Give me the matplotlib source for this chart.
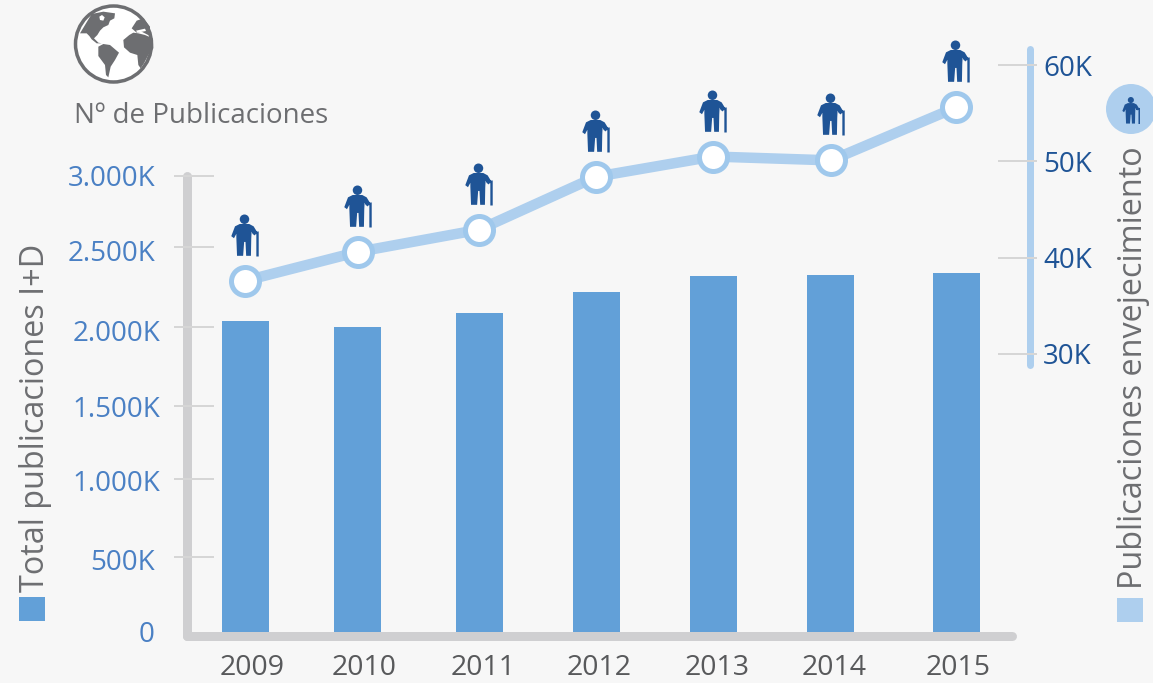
import numpy as np
import matplotlib
matplotlib.use('Agg')
import matplotlib.pyplot as plt
from matplotlib.path import Path
from matplotlib.patches import Circle, Polygon, Rectangle
from matplotlib.transforms import ScaledTranslation

# values
years = ['2009', '2010', '2011', '2012', '2013', '2014', '2015']
year_centres = [0.0, 0.952, 1.972, 2.958, 3.944, 4.938, 5.992]
total_pubs = [2046, 2007, 2099, 2237, 2342, 2349, 2362]
ageing_pubs = [37.6, 40.6, 42.9, 48.4, 50.5, 50.1, 55.6]
left_ticks = [0, 493, 1007, 1487, 2007, 2533, 3000]
left_labels = ['0', '500K', '1.000K', '1.500K', '2.000K', '2.500K', '3.000K']
right_ticks = [30, 40, 50, 60]
right_labels = ['30K', '40K', '50K', '60K']

W, H = 1153, 683
BG = '#f7f7f7'
BAR = '#62a0d8'
LINE = '#aecfee'
RING = '#9fc8ec'
AXIS = '#cfcfd1'
TICK = '#d6d6d6'
DARK = '#1f5496'
MID = '#4a80c4'
GREY = '#6d6e71'
FONT = 'Open Sans'


def px(n):
    """pixels to points at dpi 100"""
    return n * 0.72


def nudge(fig, label, dx, dy):
    """shift a tick label by some pixels, the labels in the picture are hand placed"""
    label.set_transform(label.get_transform()
                        + ScaledTranslation(dx / 100, -dy / 100, fig.dpi_scale_trans))


def person_path():
    body = [(68, 59), (96, 59), (109, 66), (120, 84), (111, 93), (103, 82),
            (102, 102), (101, 153), (87, 153), (85, 112), (81, 112), (78, 153),
            (60, 153), (58, 100), (58, 88), (51, 101), (43, 95), (54, 66)]
    cane = [(106, 83), (124, 81), (124, 155), (117, 155), (117, 89), (106, 89)]
    head = Path.circle((82, 45), 14)
    parts = [Path(body + [body[0]], closed=True),
             Path(cane + [cane[0]], closed=True), head]
    p = Path.make_compound_path(*parts)
    # centre it and flip, y in the trace goes down
    v = p.vertices - np.array([85, 93])
    return Path(v * np.array([1, -1]), p.codes)


fig = plt.figure(figsize=(W / 100, H / 100), dpi=100, facecolor=BG)

# axes box runs from the left spine to the right spine, in pixels
left, right, top, bottom = 187, 1030, 48, 636
ax = fig.add_axes([left / W, 1 - bottom / H, (right - left) / W, (bottom - top) / H])
ax.set_facecolor('none')

per_k = 3000 / (632 - 176)
ax.set_ylim(-(bottom - 632) * per_k, (632 - top) * per_k)
bar_per_px = 1 / 118.67
ax.set_xlim(-(245 - left) * bar_per_px, (right - 245) * bar_per_px)

ax.bar(year_centres, total_pubs, width=47 * bar_per_px, color=BAR, zorder=2)

ax.set_xticks(year_centres)
ax.set_xticklabels(years, fontsize=20.5, color='#58595b', family=FONT)
ax.tick_params(axis='x', length=0, pad=px(18))
for lab, dx in zip(ax.get_xticklabels(), [7, 6, 4, 3, 4, 3, 2]):
    nudge(fig, lab, dx, 0)
ax.set_yticks(left_ticks)
ax.set_yticklabels(left_labels, fontsize=20, color=MID, family=FONT)
ax.tick_params(axis='y', length=0, pad=px(27))
for lab, dx, dy in zip(ax.get_yticklabels(), [-5, -5, 0, 0, 0, -5, -5],
                       [-1, 2, 2, 1, 4, 4, 0]):
    nudge(fig, lab, dx, dy)

for s in ['top', 'right']:
    ax.spines[s].set_visible(False)
for s in ['left', 'bottom']:
    ax.spines[s].set_color(AXIS)
    ax.spines[s].set_linewidth(px(9))
    ax.spines[s].set_capstyle('round')
    ax.spines[s].set_zorder(1)
ax.spines['left'].set_bounds(ax.get_ylim()[0], 3000)
ax.spines['bottom'].set_bounds(ax.get_xlim()[0], (1012 - 245) * bar_per_px)

# tick marks cross the spine, axes fraction in x
span = right - left
ax.hlines(left_ticks[1:], (174 - left) / span, (214 - left) / span, color=TICK,
          lw=px(2), transform=ax.get_yaxis_transform(), clip_on=False, zorder=1.5)

ax2 = ax.twinx()
ax2.set_facecolor('none')
per_unit = (354 - 65) / 30
ax2.set_ylim(30 - (bottom - 354) / per_unit, 30 + (354 - top) / per_unit)
ax2.set_yticks(right_ticks)
ax2.set_yticklabels(right_labels, fontsize=20, color=DARK, family=FONT)
ax2.tick_params(axis='y', length=0, pad=px(13))
for s in ['top', 'left', 'bottom']:
    ax2.spines[s].set_visible(False)
ax2.spines['right'].set_color(LINE)
ax2.spines['right'].set_linewidth(px(7))
ax2.spines['right'].set_capstyle('round')
ax2.spines['right'].set_bounds(28.9, 61.7)
ax2.hlines(right_ticks, (998 - left) / span, (1037 - left) / span, color=TICK,
           lw=px(2), transform=ax2.get_yaxis_transform(), clip_on=False, zorder=3)

ax2.plot(year_centres, ageing_pubs, color=LINE, lw=px(10.5), zorder=4,
         solid_joinstyle='round')
ax2.plot(year_centres, ageing_pubs, ls='none', marker='o', ms=px(28), mfc='white',
         mec=RING, mew=px(5), zorder=5)

# little figures float over each point
man = person_path()
lift = ax2.transData + ScaledTranslation(0, 46 / 100, fig.dpi_scale_trans)
ax2.plot(year_centres, ageing_pubs, ls='none', marker=man, ms=px(42), mfc=DARK,
         mew=0, transform=lift, zorder=5, clip_on=False)

# overlay in picture pixels for the icons and side labels
deco = fig.add_axes([0, 0, 1, 1])
deco.set_xlim(0, W)
deco.set_ylim(H, 0)
deco.axis('off')
deco.patch.set_alpha(0)

deco.add_patch(Circle((113.5, 44), 38, fc='white', ec=GREY, lw=px(3.5)))
# continents, roughly traced from the zoomed crop (70,0) at 3x
land = [
    [(30, 100), (45, 75), (65, 42), (100, 35), (135, 40), (133, 55), (120, 62),
     (115, 75), (100, 82), (90, 92), (82, 105), (72, 115), (85, 128), (95, 130),
     (80, 130), (65, 118), (58, 108), (50, 100)],
    [(85, 140), (100, 132), (120, 135), (147, 158), (135, 180), (122, 200),
     (115, 232), (108, 225), (105, 195), (85, 168)],
    [(160, 120), (178, 105), (190, 98), (205, 100), (225, 105), (248, 115),
     (250, 145), (235, 165), (222, 190), (212, 205), (205, 195), (202, 165),
     (180, 158), (162, 142)],
    [(185, 85), (200, 62), (220, 55), (240, 80), (240, 108), (215, 95), (200, 98)],
]
water = [
    [(88, 50), (96, 45), (104, 52), (100, 62), (90, 60)],
    [(198, 92), (225, 86), (228, 93), (202, 98)],
]
for shape in land:
    deco.add_patch(Polygon([(70 + a / 3, b / 3) for a, b in shape], closed=True,
                           fc=GREY, ec='none'))
for shape in water:
    deco.add_patch(Polygon([(70 + a / 3, b / 3) for a, b in shape], closed=True,
                           fc='white', ec='none'))

deco.text(74, 123, 'Nº de Publicaciones', fontsize=20, color=GREY, family=FONT,
          va='baseline', ha='left')
deco.text(36, 592, 'Total publicaciones I+D', fontsize=23.3, color=GREY, family=FONT,
          rotation=90, ha='center', va='bottom')
deco.text(1134, 589, 'Publicaciones envejecimiento', fontsize=23.3, color=GREY,
          family=FONT, rotation=90, ha='center', va='bottom')

deco.add_patch(Rectangle((19, 597), 26, 24, fc=BAR, ec='none'))
deco.add_patch(Rectangle((1117, 598), 26, 24, fc=LINE, ec='none'))
deco.add_patch(Circle((1131, 109), 25, fc=LINE, ec='none', clip_on=False))
deco.plot([1131], [110], marker=man, ms=px(27), mfc=DARK, mew=0, ls='none')

fig.savefig('out.png', dpi=100, facecolor=BG)
